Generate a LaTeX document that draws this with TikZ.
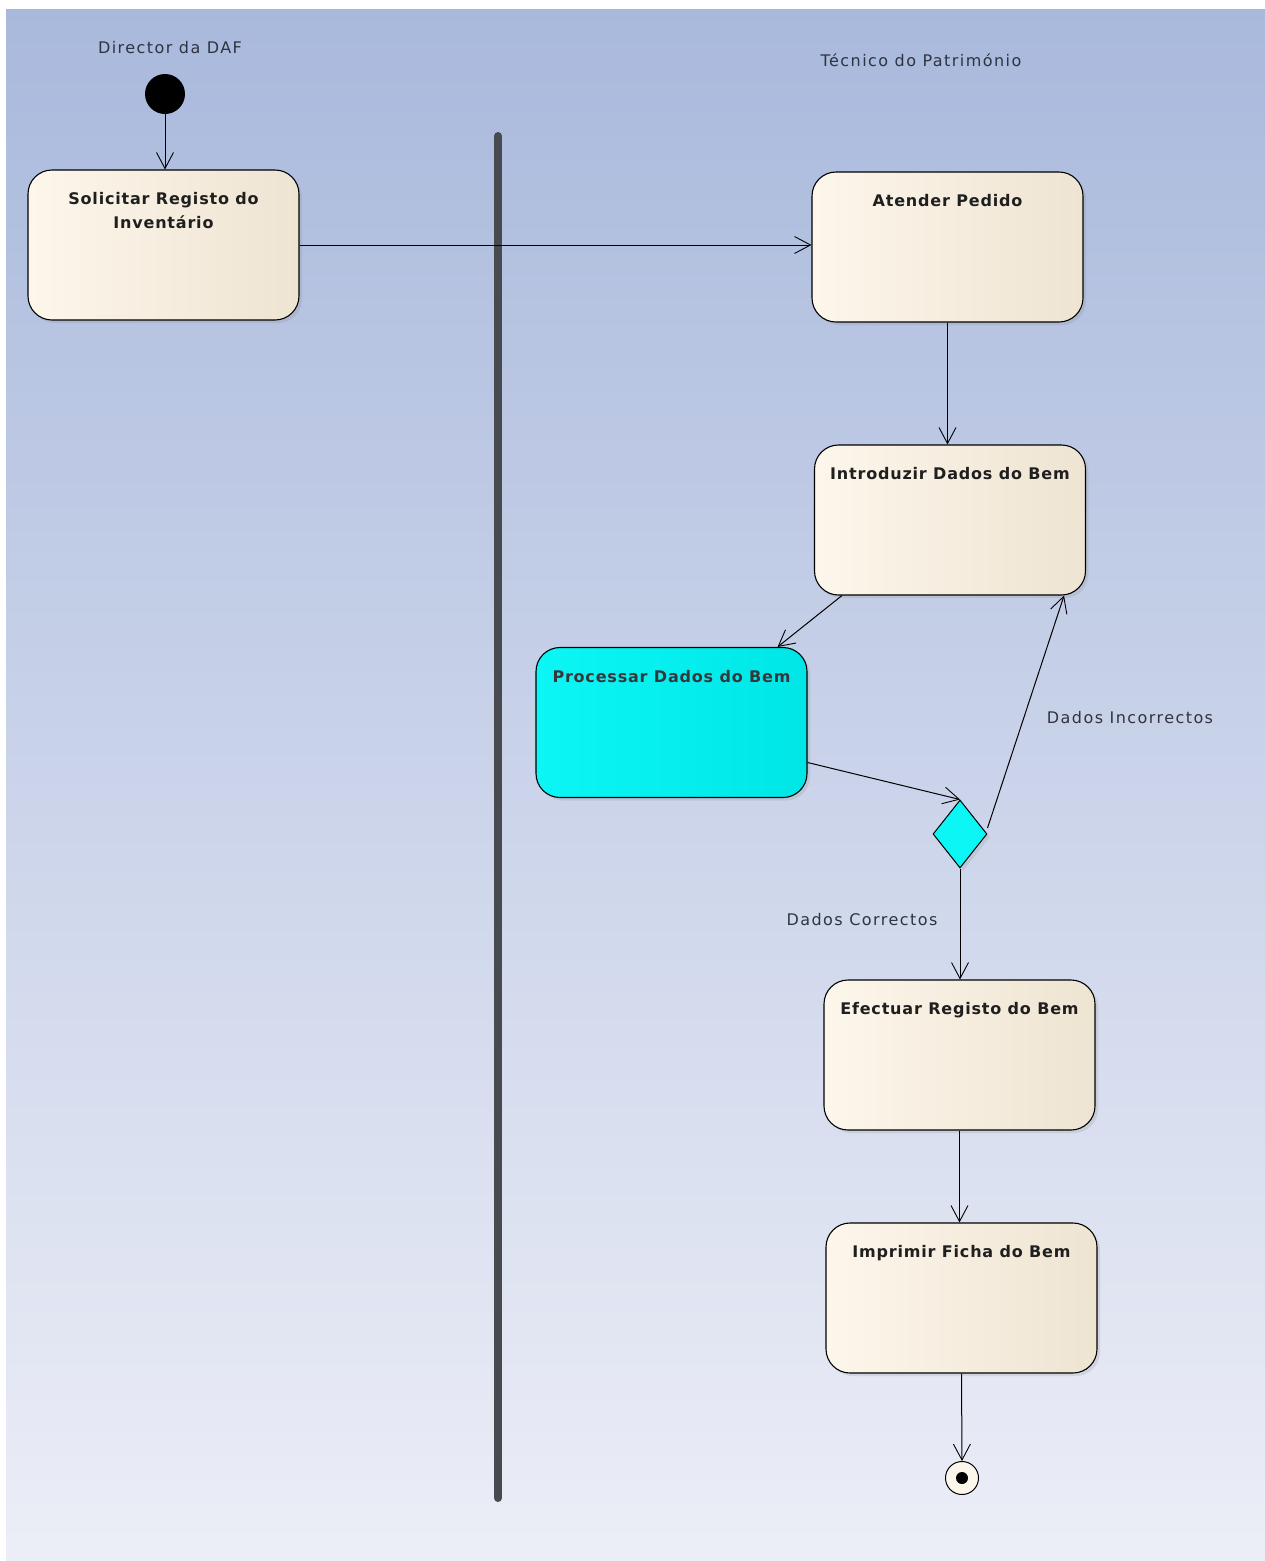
\documentclass[tikz,border=0pt]{standalone}
\usepackage{fontspec}
\setmainfont{DejaVu Sans}
\newfontfamily\titlefont[LetterSpace=5]{DejaVu Sans}
\newfontfamily\labelfont[LetterSpace=9]{DejaVu Sans}
\usetikzlibrary{arrows.meta,shapes.geometric,calc,shadows}
\definecolor{bgtop}{HTML}{A9B9DC}
\definecolor{bgbot}{HTML}{ECEEF7}
\definecolor{creamL}{HTML}{FDF6EB}
\definecolor{creamR}{HTML}{EEE4D2}
\definecolor{cyanL}{HTML}{0CF6F6}
\definecolor{cyanR}{HTML}{00E6E6}
\definecolor{lanegray}{HTML}{474A4F}
\definecolor{txtgray}{HTML}{2E3440}
\tikzset{
  act/.style={draw=black, line width=1.1pt, rounded corners=24pt, minimum width=271pt, minimum height=150pt,
    shading=axis, left color=creamL, right color=creamR, shading angle=90,
    drop shadow={shadow xshift=3pt, shadow yshift=-3pt, opacity=0.18}},
  actc/.style={act, left color=cyanL, right color=cyanR},
  ttl/.style={font=\titlefont\bfseries\fontsize{16}{24}\selectfont, text=black!88, align=center, inner sep=0pt,
    anchor=north, yshift=-23pt},
  lbl/.style={font=\labelfont\fontsize{16}{19}\selectfont, text=txtgray},
  flow/.style={draw=black, line width=1pt, -{Straight Barb[length=16pt,width=17pt,line width=0.9pt]}},
}
\begin{document}
\begin{tikzpicture}[x=1pt,y=-1pt]
\useasboundingbox (0,0) rectangle (1265,1561);
\fill[white] (0,0) rectangle (1265,1561);
\shade[top color=bgtop, bottom color=bgbot] (6,9) rectangle (1265,1561);

% swimlane separator
\draw[lanegray, line width=8pt, line cap=round] (498,136) -- (498,1498);

\node[lbl] (lane1) at (170,48) {Director da DAF};
\node[lbl] (lane2) at (921,60) {Técnico do Património};

\node[circle, fill=black, minimum size=40pt, inner sep=0pt] (init) at (165,94) {};

\node[act, label={[ttl, name=t1]north:Solicitar Registo do\\Inventário}] (b1) at (163.5,245) {};
\node[act, label={[ttl, name=t2]north:Atender Pedido}] (aten) at (947.5,247) {};
\node[act, label={[ttl, name=t3]north:Introduzir Dados do Bem}] (intro) at (950,520) {};
\node[actc, label={[ttl, name=t4, text=black!80!cyan!60!black]north:Processar Dados do Bem}] (proc) at (671.5,722.5) {};
\node[draw=black, line width=1pt, diamond, fill=cyanL, minimum width=54pt, minimum height=68pt, inner sep=0pt,
  drop shadow={shadow xshift=3pt, shadow yshift=-3pt, opacity=0.18}] (dia) at (960,834) {};
\node[act, label={[ttl, name=t5]north:Efectuar Registo do Bem}] (eff) at (959.5,1055) {};
\node[act, label={[ttl, name=t6]north:Imprimir Ficha do Bem}] (impr) at (961.5,1298) {};

\node[circle, draw=black, line width=1pt, fill=creamL, minimum size=33pt, inner sep=0pt] (fin) at (962,1478) {};
\node[circle, fill=black, minimum size=12pt, inner sep=0pt] (findot) at (fin.center) {};

\node[lbl] (linc) at (1130,718) {Dados Incorrectos};
\node[lbl] (lcor) at (862,920) {Dados Correctos};

\draw[flow] (init.south) -- (init.south |- b1.north);
\draw[flow] (b1.east) -- (aten.west |- b1.east);
\draw[flow] (aten.south) -- (aten.south |- intro.north);
\draw[flow] ($(intro.south west)+(28,0)$) -- ($(proc.north east)+(-30,0)$);
\draw[flow] ($(proc.east)+(0,40)$) -- (dia.north);
\draw[flow] ($(dia.east)+(0,-6)$) -- ($(intro.south east)+(-22,0)$);
\draw[flow] (dia.south) -- (dia.south |- eff.north);
\draw[flow] (eff.south) -- (eff.south |- impr.north);
\draw[flow] (impr.south) -- (fin.north);
\end{tikzpicture}
\end{document}
